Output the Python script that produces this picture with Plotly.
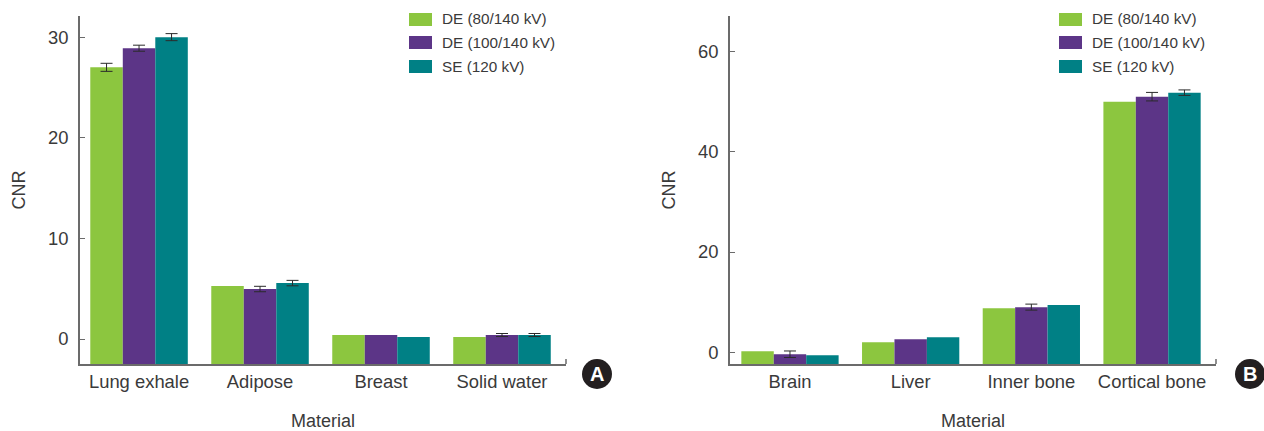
import plotly.graph_objects as go

W, H = 1264, 431
FONT = "Liberation Sans"
TEXT = "#3a3a3a"
AXIS = "#6b6b6b"

series = ["DE (80/140 kV)", "DE (100/140 kV)", "SE (120 kV)"]
colors = ["#8CC63F", "#5C3587", "#008085"]

cats_a = ["Lung exhale", "Adipose", "Breast", "Solid water"]
de80_a = [27.0, 5.26, 0.4, 0.2]
de100_a = [28.9, 4.97, 0.4, 0.4]
se120_a = [30.0, 5.56, 0.2, 0.4]
# "na" = no error bar drawn on that bar
err80_a = [0.4, "na", "na", "na"]
err100_a = [0.3, 0.27, "na", 0.15]
err120_a = [0.35, 0.27, "na", 0.15]

cats_b = ["Brain", "Liver", "Inner bone", "Cortical bone"]
de80_b = [0.2, 2.0, 8.8, 50.0]
de100_b = [-0.4, 2.6, 9.0, 51.0]
se120_b = [-0.6, 3.0, 9.4, 51.8]
err80_b = ["na", "na", "na", "na"]
err100_b = [0.65, "na", 0.6, 0.85]
err120_b = ["na", "na", "na", 0.55]

floor_a, top_a = -2.48, 32.1
floor_b, top_b = -2.35, 67.1


def px(x):
    return x / W


def py(y):
    return 1 - y / H


fig = go.Figure()


def add_panel(cats, vals, errs, floor, xa, ya):
    for name, col, v, e in zip(series, colors, vals, errs):
        fig.add_bar(
            x=cats, y=[a - floor for a in v], base=floor, name=name,
            marker=dict(color=col, line=dict(width=0)),
            error_y=dict(type="data", array=e, symmetric=True, color="#2b2b2b",
                         thickness=1, width=6),
            xaxis=xa, yaxis=ya, showlegend=False,
        )


add_panel(cats_a, [de80_a, de100_a, se120_a], [err80_a, err100_a, err120_a], floor_a, "x", "y")
add_panel(cats_b, [de80_b, de100_b, se120_b], [err80_b, err100_b, err120_b], floor_b, "x2", "y2")

axis_common = dict(showgrid=False, zeroline=False, showline=True, linecolor=AXIS, linewidth=1.5,
                   tickfont=dict(family=FONT, size=18.4, color=TEXT))
title_font = dict(family=FONT, size=18, color=TEXT)

shapes = []
ann = []


def legend_and_badge(x0, tx, badge_x, letter, xa):
    for (col, name, y0) in zip(colors, series, [13, 36, 60]):
        shapes.append(dict(type="rect", xref="paper", yref="paper", x0=px(x0), x1=px(x0 + 23),
                           y0=py(y0), y1=py(y0 + 13), fillcolor=col, line=dict(width=0)))
        ann.append(dict(xref="paper", yref="paper", x=px(tx), y=py(y0 + 6), text=name, showarrow=False,
                        xanchor="left", yanchor="middle", xshift=0,
                        font=dict(family=FONT, size=15.3, color=TEXT)))
    r = 15
    shapes.append(dict(type="circle", xref="paper", yref="paper", x0=px(badge_x - r), x1=px(badge_x + r),
                       y0=py(374 + r), y1=py(374 - r), fillcolor="#231F20", line=dict(width=0)))
    ann.append(dict(xref="paper", yref="paper", x=px(badge_x), y=py(374), text="<b>%s</b>" % letter,
                    showarrow=False, xanchor="center", yanchor="middle",
                    font=dict(family=FONT, size=20, color="white")))
    shapes.append(dict(type="line", xref=xa + " domain", yref="paper", x0=1, x1=1,
                       y0=py(364), y1=py(359), line=dict(color=AXIS, width=1.5)))


legend_and_badge(409, 440, 597, "A", "x")
legend_and_badge(1059, 1090, 1250, "B", "x2")

fig.update_layout(
    width=W, height=H, autosize=False, margin=dict(l=0, r=0, t=0, b=0),
    paper_bgcolor="white", plot_bgcolor="white",
    barmode="group", bargap=0.194, bargroupgap=0,
    shapes=shapes, annotations=ann, showlegend=False,
    xaxis=dict(domain=[px(80), px(566)], range=[-0.488, 3.529], anchor="y", ticks="",
               ticklabelstandoff=0,
               title=dict(text="Material", font=title_font, standoff=24), **axis_common),
    yaxis=dict(domain=[py(364), py(16)], range=[floor_a, top_a], anchor="x", tickvals=[0, 10, 20, 30],
               ticks="inside", ticklen=5, tickcolor=AXIS, ticklabelstandoff=6,
               title=dict(text="CNR", font=title_font, standoff=18), **axis_common),
    xaxis2=dict(domain=[px(730), px(1216)], range=[-0.497, 3.53], anchor="y2", ticks="",
                ticklabelstandoff=0,
                title=dict(text="Material", font=title_font, standoff=24), **axis_common),
    yaxis2=dict(domain=[py(364), py(16)], range=[floor_b, top_b], anchor="x2", tickvals=[0, 20, 40, 60],
                ticks="inside", ticklen=5, tickcolor=AXIS, ticklabelstandoff=6,
                title=dict(text="CNR", font=title_font, standoff=18), **axis_common),
)

fig.write_html("out.html", config={"displayModeBar": False},
               post_script="document.body.style.margin='0';document.body.style.overflow='hidden';")
